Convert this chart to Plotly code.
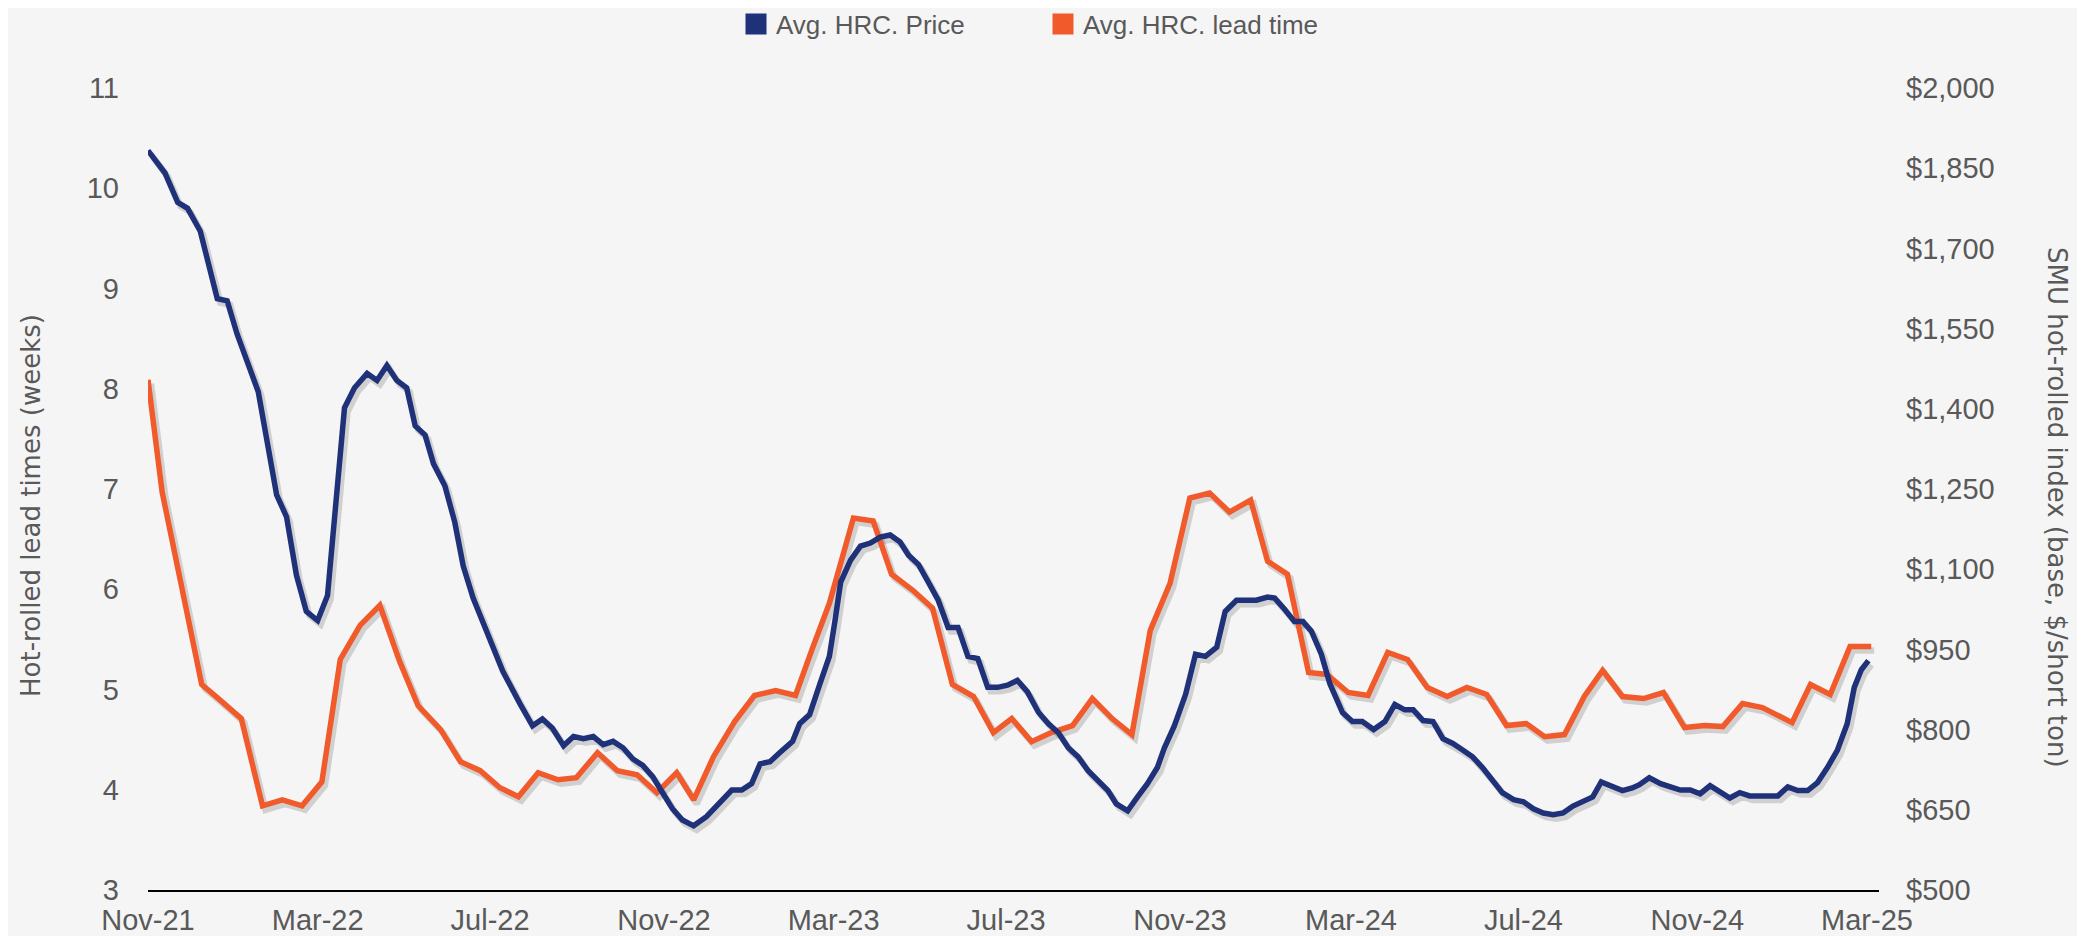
import plotly.graph_objects as go

# ---------------- data ----------------
price_dates = [
    "2021-11-01", "2021-11-13", "2021-11-22", "2021-11-29", "2021-12-08", "2021-12-20", "2021-12-27",
    "2022-01-03", "2022-01-18", "2022-01-31", "2022-02-07", "2022-02-14", "2022-02-21", "2022-03-01",
    "2022-03-08", "2022-03-15", "2022-03-20", "2022-03-27", "2022-04-05", "2022-04-12", "2022-04-19",
    "2022-04-26", "2022-05-03", "2022-05-09", "2022-05-16", "2022-05-22", "2022-05-30", "2022-06-06",
    "2022-06-12", "2022-06-19", "2022-06-29", "2022-07-10", "2022-07-22", "2022-07-31", "2022-08-07",
    "2022-08-14", "2022-08-22", "2022-08-29", "2022-09-05", "2022-09-12", "2022-09-19", "2022-09-26",
    "2022-10-03", "2022-10-10", "2022-10-17", "2022-10-24", "2022-10-31", "2022-11-07", "2022-11-14",
    "2022-11-22", "2022-12-01", "2022-12-11", "2022-12-19", "2022-12-26", "2023-01-02", "2023-01-08",
    "2023-01-15", "2023-01-22", "2023-01-31", "2023-02-05", "2023-02-12", "2023-02-19", "2023-02-26",
    "2023-03-02", "2023-03-06", "2023-03-13", "2023-03-20", "2023-03-27", "2023-04-03", "2023-04-10",
    "2023-04-17", "2023-04-23", "2023-04-30", "2023-05-07", "2023-05-14", "2023-05-21", "2023-05-28",
    "2023-06-04", "2023-06-11", "2023-06-18", "2023-06-25", "2023-07-02", "2023-07-09", "2023-07-16",
    "2023-07-24", "2023-07-31", "2023-08-07", "2023-08-14", "2023-08-21", "2023-08-28", "2023-09-04",
    "2023-09-11", "2023-09-17", "2023-09-25", "2023-10-02", "2023-10-09", "2023-10-16", "2023-10-21",
    "2023-10-28", "2023-11-05", "2023-11-12", "2023-11-19", "2023-11-27", "2023-12-03", "2023-12-11",
    "2023-12-18", "2023-12-25", "2024-01-02", "2024-01-07", "2024-01-14", "2024-01-21", "2024-01-27",
    "2024-02-02", "2024-02-09", "2024-02-15", "2024-02-24", "2024-03-02", "2024-03-09", "2024-03-17",
    "2024-03-25", "2024-04-01", "2024-04-08", "2024-04-14", "2024-04-21", "2024-04-28", "2024-05-05",
    "2024-05-12", "2024-05-19", "2024-05-26", "2024-06-02", "2024-06-09", "2024-06-16", "2024-06-24",
    "2024-07-01", "2024-07-08", "2024-07-15", "2024-07-22", "2024-07-29", "2024-08-05", "2024-08-12",
    "2024-08-19", "2024-08-25", "2024-08-31", "2024-09-09", "2024-09-16", "2024-09-21", "2024-09-28",
    "2024-10-06", "2024-10-13", "2024-10-20", "2024-10-27", "2024-11-03", "2024-11-10", "2024-11-17",
    "2024-11-24", "2024-12-01", "2024-12-08", "2024-12-15", "2024-12-22", "2024-12-28", "2025-01-04",
    "2025-01-11", "2025-01-18", "2025-01-25", "2025-02-01", "2025-02-08", "2025-02-15", "2025-02-20",
    "2025-02-25", "2025-03-02",
]
price_values = [
    1883, 1841, 1786, 1775, 1732, 1606, 1602,
    1540, 1432, 1239, 1198, 1089, 1021, 1004,
    1051, 1272, 1402, 1439, 1466, 1453, 1481,
    1453, 1439, 1368, 1351, 1297, 1256, 1188,
    1106, 1046, 980, 909, 849, 807, 820,
    803, 770, 787, 783, 787, 772, 778,
    766, 745, 733, 712, 682, 652, 631,
    620, 637, 666, 687, 687, 699, 736,
    740, 757, 778, 811, 828, 883, 937,
    1004, 1076, 1117, 1143, 1149, 1160, 1164,
    1151, 1126, 1109, 1076, 1042, 991, 991,
    937, 933, 879, 879, 883, 892, 871,
    832, 811, 794, 766, 749, 723, 706,
    686, 661, 648, 674, 699, 729, 766,
    807, 866, 941, 937, 954, 1021, 1042,
    1042, 1042, 1048, 1046, 1025, 1002, 1002,
    984, 941, 886, 832, 815, 815, 800,
    815, 847, 837, 837, 817, 815, 783,
    774, 762, 749, 729, 706, 682, 669,
    665, 652, 644, 641, 644, 657, 665,
    674, 702, 695, 686, 691, 697, 710,
    699, 693, 687, 687, 680, 695, 682,
    672, 682, 676, 676, 676, 676, 693,
    686, 686, 701, 729, 761, 811, 879,
    912, 929,
]

lead_dates = [
    "2021-11-01", "2021-11-11", "2021-11-24", "2021-12-09", "2021-12-20", "2022-01-06", "2022-01-21",
    "2022-02-04", "2022-02-18", "2022-03-04", "2022-03-17", "2022-03-31", "2022-04-14", "2022-04-28",
    "2022-05-11", "2022-05-27", "2022-06-10", "2022-06-24", "2022-07-08", "2022-07-21", "2022-08-04",
    "2022-08-18", "2022-08-31", "2022-09-15", "2022-09-29", "2022-10-13", "2022-10-27", "2022-11-10",
    "2022-11-22", "2022-12-06", "2022-12-21", "2023-01-04", "2023-01-19", "2023-02-02", "2023-02-14",
    "2023-02-26", "2023-03-15", "2023-03-29", "2023-04-11", "2023-04-26", "2023-05-10", "2023-05-24",
    "2023-06-08", "2023-06-22", "2023-07-05", "2023-07-19", "2023-08-02", "2023-08-17", "2023-08-31",
    "2023-09-14", "2023-09-28", "2023-10-11", "2023-10-25", "2023-11-08", "2023-11-22", "2023-12-06",
    "2023-12-21", "2024-01-02", "2024-01-16", "2024-01-31", "2024-02-13", "2024-02-28", "2024-03-13",
    "2024-03-27", "2024-04-10", "2024-04-24", "2024-05-08", "2024-05-22", "2024-06-05", "2024-06-19",
    "2024-07-03", "2024-07-16", "2024-07-30", "2024-08-13", "2024-08-26", "2024-09-09", "2024-09-24",
    "2024-10-08", "2024-10-23", "2024-11-06", "2024-11-19", "2024-12-03", "2024-12-17", "2025-01-07",
    "2025-01-20", "2025-02-03", "2025-02-17", "2025-03-04",
]
lead_values = [
    8.09, 6.97, 6.08, 5.05, 4.92, 4.71, 3.84,
    3.90, 3.84, 4.08, 5.30, 5.64, 5.84, 5.28,
    4.84, 4.60, 4.28, 4.19, 4.02, 3.93, 4.17,
    4.10, 4.12, 4.37, 4.19, 4.15, 3.97, 4.17,
    3.90, 4.33, 4.68, 4.94, 4.99, 4.94, 5.41,
    5.86, 6.71, 6.68, 6.15, 5.99, 5.81, 5.05,
    4.93, 4.57, 4.71, 4.48, 4.57, 4.64, 4.91,
    4.71, 4.55, 5.59, 6.06, 6.91, 6.96, 6.77,
    6.89, 6.28, 6.15, 5.17, 5.15, 4.97, 4.94,
    5.37, 5.30, 5.02, 4.93, 5.02, 4.95, 4.64,
    4.66, 4.53, 4.55, 4.93, 5.19, 4.93, 4.91,
    4.97, 4.62, 4.64, 4.63, 4.86, 4.82, 4.67,
    5.05, 4.95, 5.43, 5.43,
]

x_tick_dates = ["2021-11-01", "2022-03-01", "2022-07-01", "2022-11-01", "2023-03-01", "2023-07-01",
                "2023-11-01", "2024-03-01", "2024-07-01", "2024-11-01", "2025-03-01"]
x_tick_labels = ["Nov-21", "Mar-22", "Jul-22", "Nov-22", "Mar-23", "Jul-23",
                 "Nov-23", "Mar-24", "Jul-24", "Nov-24", "Mar-25"]
lead_ticks = [3, 4, 5, 6, 7, 8, 9, 10, 11]
price_ticks = [500, 650, 800, 950, 1100, 1250, 1400, 1550, 1700, 1850, 2000]
price_tick_labels = ["$500", "$650", "$800", "$950", "$1,100", "$1,250", "$1,400",
                     "$1,550", "$1,700", "$1,850", "$2,000"]

series_names = ["Avg. HRC. Price", "Avg. HRC. lead time"]
left_title = "Hot-rolled lead times (weeks)"
right_title = "SMU hot-rolled index (base, $/short ton)"

# ---------------- style ----------------
BLUE = "#1f3178"
ORANGE = "#f15a2a"
BG = "#f5f5f5"
TXT = "#595959"
SHADOW = "rgba(0,0,0,0.15)"
TICK_FONT = dict(family="Liberation Sans, Arial, sans-serif", size=29, color=TXT)
TITLE_FONT = dict(family="DejaVu Sans, sans-serif", size=26, color=TXT)

OFF = 8                               # page body margin of the viewer
W, H = 2085 - OFF, 936 - OFF
ML, MR, MT, MB = 148 - OFF, 203, 88 - OFF, 42
PW, PH = W - ML - MR, H - MT - MB     # paper area (includes shadow offset)
DX, DY = 3, 4                         # shadow offset in px
LW = 5.5

x_range = ["2021-11-01", "2025-03-09 12:00"]

fig = go.Figure()

# shadow lines (drawn first, beneath)
fig.add_trace(go.Scatter(x=lead_dates, y=lead_values, mode="lines", xaxis="x", yaxis="y",
                         line=dict(color=SHADOW, width=LW + 1), hoverinfo="skip", showlegend=False))
fig.add_trace(go.Scatter(x=price_dates, y=price_values, mode="lines", xaxis="x", yaxis="y2",
                         line=dict(color=SHADOW, width=LW + 1), hoverinfo="skip", showlegend=False))

# main lines
fig.add_trace(go.Scatter(x=lead_dates, y=lead_values, mode="lines", xaxis="x2", yaxis="y3",
                         name=series_names[1], line=dict(color=ORANGE, width=LW), showlegend=False))
fig.add_trace(go.Scatter(x=price_dates, y=price_values, mode="lines", xaxis="x2", yaxis="y4",
                         name=series_names[0], line=dict(color=BLUE, width=LW), showlegend=False))

# legend entries (square swatches)
for nm, col in zip(series_names, [BLUE, ORANGE]):
    fig.add_trace(go.Scatter(x=[None], y=[None], mode="markers", xaxis="x2", yaxis="y3", name=nm,
                             marker=dict(symbol="square", size=16, color=col,
                                         line=dict(color=col, width=5))))

main_x_dom = [0, (PW - DX) / PW]
shadow_x_dom = [DX / PW, 1]
main_y_dom = [DY / PH, 1]
shadow_y_dom = [0, (PH - DY) / PH]

hidden = dict(visible=False, showgrid=False, zeroline=False, automargin=False)


def px_x(page_x):
    return (page_x - OFF - ML) / PW


def px_y(page_y):
    return (H - MB - (page_y - OFF)) / PH


fig.update_layout(
    width=W, height=H,
    margin=dict(l=ML, r=MR, t=MT, b=MB, pad=0, autoexpand=False),
    paper_bgcolor=BG, plot_bgcolor="rgba(0,0,0,0)",
    showlegend=True,
    legend=dict(orientation="h", xref="container", yref="container",
                x=(1043 - OFF) / W, xanchor="center", y=1 - (24 - OFF) / H, yanchor="middle",
                font=dict(family="Liberation Sans, Arial, sans-serif", size=26, color=TXT),
                bgcolor="rgba(0,0,0,0)", entrywidth=262, entrywidthmode="pixels",
                itemclick=False, itemdoubleclick=False),
    # shadow axes
    xaxis=dict(domain=shadow_x_dom, range=x_range, type="date", anchor="y", **hidden),
    yaxis=dict(domain=shadow_y_dom, range=[3, 11], anchor="x", **hidden),
    yaxis2=dict(range=[500, 2000], overlaying="y", anchor="x", side="right", **hidden),
    # visible axes
    xaxis2=dict(domain=main_x_dom, range=x_range, type="date", anchor="y3",
                tickvals=x_tick_dates, ticktext=x_tick_labels, ticks="",
                showline=True, linecolor="#000000", linewidth=2, automargin=False,
                showgrid=False, zeroline=False, tickfont=TICK_FONT, ticklabelstandoff=3),
    yaxis3=dict(domain=main_y_dom, range=[3, 11], anchor="x2", tickvals=lead_ticks,
                ticks="", showline=False, showgrid=False, zeroline=False, automargin=False,
                tickfont=TICK_FONT, ticklabelstandoff=28),
    yaxis4=dict(range=[500, 2000], overlaying="y3", anchor="x2", side="right",
                tickvals=price_ticks, ticktext=price_tick_labels, ticks="",
                showline=False, showgrid=False, zeroline=False, automargin=False,
                tickfont=TICK_FONT, ticklabelstandoff=26),
)

fig.add_annotation(text=left_title, xref="paper", yref="paper",
                   x=px_x(31), y=px_y(506), xanchor="center", yanchor="middle",
                   textangle=-90, showarrow=False, font=TITLE_FONT)
fig.add_annotation(text=right_title, xref="paper", yref="paper",
                   x=px_x(2057), y=px_y(507), xanchor="center", yanchor="middle",
                   textangle=90, showarrow=False, font=TITLE_FONT)

fig.write_html("out.html")
